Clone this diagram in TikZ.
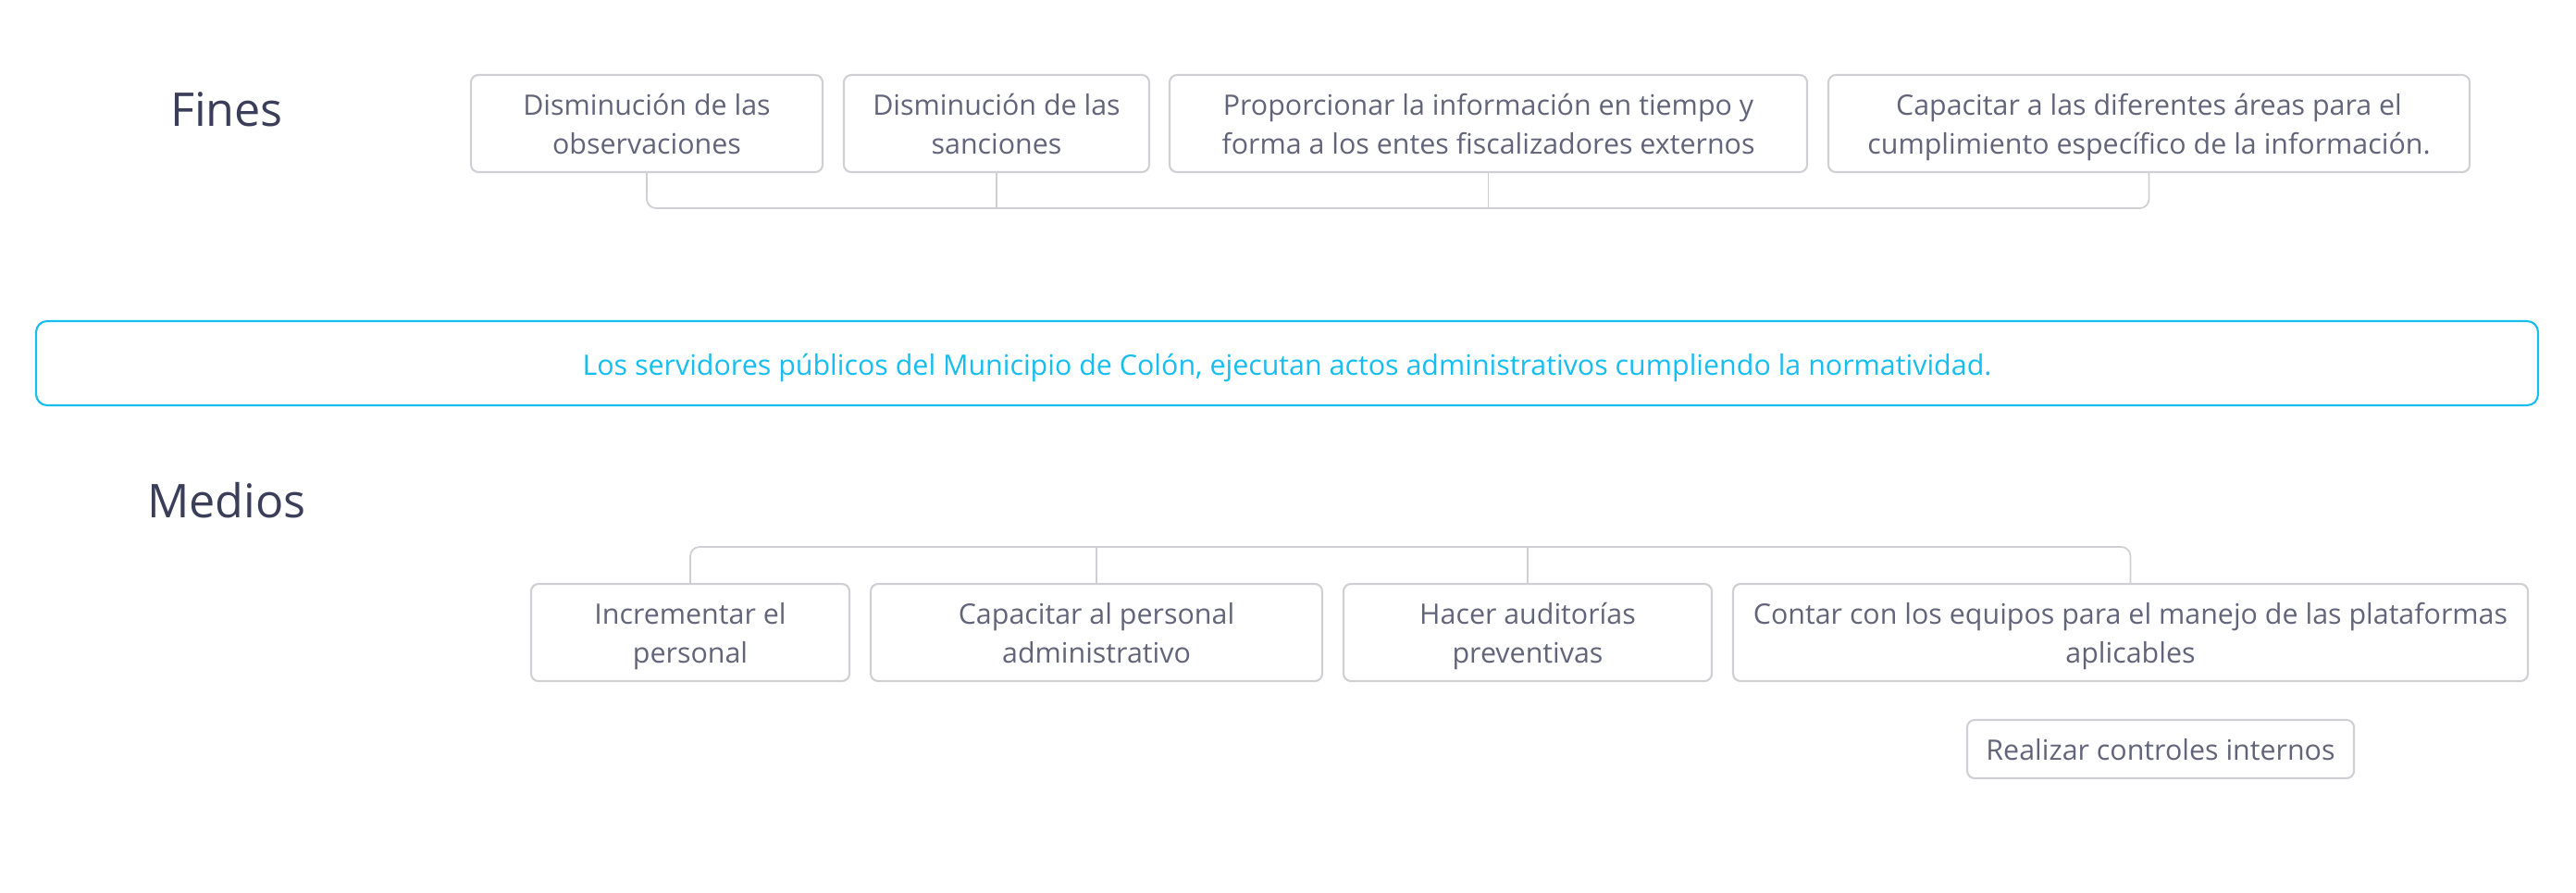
\documentclass[tikz,border=0pt]{standalone}
\usepackage{fontspec}
\setmainfont{Open Sans}
\usepackage{tikz}
\usetikzlibrary{calc}
\tikzset{>=latex}
\definecolor{boxtext}{RGB}{98,100,122}
\definecolor{titletext}{RGB}{58,62,88}
\definecolor{proposito}{RGB}{22,190,240}
\definecolor{borde}{RGB}{208,208,212}
\newcommand{\altopuntal}{\rule{0pt}{10.6pt}}
\tikzset{
  caja/.style={draw=borde, line width=0.6pt, rounded corners=0.08cm, text=boxtext,
    align=center, inner sep=0pt, minimum height=1.05cm,
    font=\fontsize{8.65}{11.9}\selectfont},
  titulo/.style={text=titletext, font=\fontsize{14.3}{16}\selectfont},
  enlace/.style={draw=borde, line width=0.5pt, rounded corners=0.1cm},
}

\begin{document}
\begin{tikzpicture}
    \useasboundingbox (0,0) rectangle (27.84,-9.64);
    \node[titulo] (fines) at (2.45,-1.18) {Fines};
    \node[titulo] (medios) at (2.45,-5.41) {Medios};
    % fines
    \node[caja, minimum width=3.80cm] (f1) at (6.99,-1.335) {\altopuntal Disminución de las\\observaciones\strut};
    \node[caja, minimum width=3.30cm] (f2) at (10.77,-1.335) {\altopuntal Disminución de las\\sanciones\strut};
    \node[caja, minimum width=6.89cm] (f3) at (16.085,-1.335) {\altopuntal Proporcionar la información en tiempo y\\forma a los entes fiscalizadores externos\strut};
    \node[caja, minimum width=6.93cm] (f4) at (23.225,-1.335) {\altopuntal Capacitar a las diferentes áreas para el\\cumplimiento específico de la información.\strut};
    \coordinate (barraf) at (0,-2.25);
    \draw[enlace] (f1.south) |- (barraf -| f4.south) -- (f4.south);
    \draw[enlace] (f2.south) -- (f2.south |- barraf);
    \draw[enlace] (f3.south) -- (f3.south |- barraf);
    % proposito
    \node[caja, draw=proposito, text=proposito, rounded corners=0.12cm, minimum width=27.04cm, minimum height=0.91cm] (prop) at (13.91,-3.925) {\rule{0pt}{10.8pt}Los servidores públicos del Municipio de Colón, ejecutan actos administrativos cumpliendo la normatividad.\strut};
    % medios
    \node[caja, minimum width=3.44cm] (m1) at (7.46,-6.835) {\altopuntal Incrementar el\\personal\strut};
    \node[caja, minimum width=4.88cm] (m2) at (11.85,-6.835) {\altopuntal Capacitar al personal\\administrativo\strut};
    \node[caja, minimum width=3.98cm] (m3) at (16.51,-6.835) {\altopuntal Hacer auditorías\\preventivas\strut};
    \node[caja, minimum width=8.59cm] (m4) at (23.025,-6.835) {\altopuntal Contar con los equipos para el manejo de las plataformas\\aplicables\strut};
    \node[caja, minimum width=4.18cm, minimum height=0.63cm] (m5) at (23.35,-8.095) {\rule{0pt}{10.6pt}Realizar controles internos\strut};
    \coordinate (barram) at (0,-5.91);
    \draw[enlace] (m1.north) |- (barram -| m4.north) -- (m4.north);
    \draw[enlace] (m2.north) -- (m2.north |- barram);
    \draw[enlace] (m3.north) -- (m3.north |- barram);
\end{tikzpicture}
\end{document}
